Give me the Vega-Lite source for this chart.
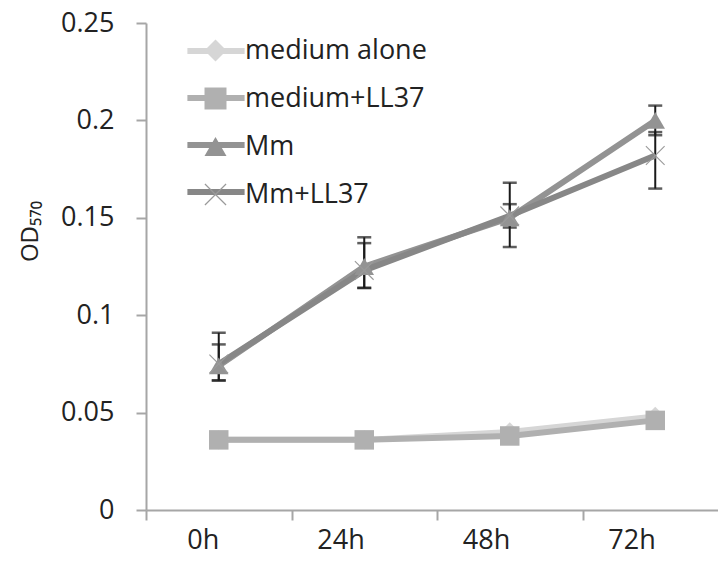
{
  "$schema": "https://vega.github.io/schema/vega-lite/v6.json",
  "width": 582,
  "height": 487,
  "autosize": "none",
  "padding": {"left": 146, "top": 23, "right": -10, "bottom": 57},
  "background": "white",
  "config": {
    "view": {"stroke": null},
    "axis": {
      "grid": false,
      "domainColor": "#a6a6a6",
      "domainWidth": 2,
      "tickColor": "#a6a6a6",
      "tickWidth": 2,
      "tickSize": 10,
      "labelFont": "Open Sans",
      "labelFontSize": 27,
      "labelColor": "#222222",
      "titleFont": "Open Sans",
      "titleFontSize": 24,
      "titleFontWeight": "normal",
      "titleColor": "#222222"
    }
  },
  "resolve": {"legend": {"stroke": "independent", "fill": "independent", "shape": "independent"}},
  "datasets": {
    "means": [
      {"series": "medium alone", "time": "0h", "od": 0.036},
      {"series": "medium alone", "time": "24h", "od": 0.036},
      {"series": "medium alone", "time": "48h", "od": 0.040},
      {"series": "medium alone", "time": "72h", "od": 0.048},
      {"series": "medium+LL37", "time": "0h", "od": 0.036},
      {"series": "medium+LL37", "time": "24h", "od": 0.036},
      {"series": "medium+LL37", "time": "48h", "od": 0.038},
      {"series": "medium+LL37", "time": "72h", "od": 0.046},
      {"series": "Mm", "time": "0h", "od": 0.074},
      {"series": "Mm", "time": "24h", "od": 0.125},
      {"series": "Mm", "time": "48h", "od": 0.150},
      {"series": "Mm", "time": "72h", "od": 0.200},
      {"series": "Mm+LL37", "time": "0h", "od": 0.075},
      {"series": "Mm+LL37", "time": "24h", "od": 0.123},
      {"series": "Mm+LL37", "time": "48h", "od": 0.151},
      {"series": "Mm+LL37", "time": "72h", "od": 0.182}
    ],
    "errors": [
      {"series": "Mm", "time": "0h", "lo": 0.0665, "hi": 0.085},
      {"series": "Mm+LL37", "time": "0h", "lo": 0.0665, "hi": 0.091},
      {"series": "Mm", "time": "24h", "lo": 0.114, "hi": 0.137},
      {"series": "Mm+LL37", "time": "24h", "lo": 0.114, "hi": 0.140},
      {"series": "Mm", "time": "48h", "lo": 0.145, "hi": 0.157},
      {"series": "Mm+LL37", "time": "48h", "lo": 0.135, "hi": 0.168},
      {"series": "Mm", "time": "72h", "lo": 0.1924, "hi": 0.2076},
      {"series": "Mm+LL37", "time": "72h", "lo": 0.165, "hi": 0.194}
    ]
  },
  "layer": [
    {
      "data": {"name": "errors"},
      "mark": {"type": "rule", "color": "#1a1a1a", "strokeWidth": 2},
      "encoding": {
        "x": {"field": "time", "type": "nominal", "sort": ["0h", "24h", "48h", "72h"], "title": null},
        "y": {"field": "lo", "type": "quantitative", "title": "OD₅₇₀"},
        "y2": {"field": "hi"}
      }
    },
    {
      "data": {"name": "errors"},
      "mark": {"type": "tick", "color": "#1a1a1a", "size": 14, "thickness": 2.5},
      "encoding": {
        "x": {"field": "time", "type": "nominal", "sort": ["0h", "24h", "48h", "72h"], "title": null},
        "y": {"field": "lo", "type": "quantitative", "title": "OD₅₇₀"}
      }
    },
    {
      "data": {"name": "errors"},
      "mark": {"type": "tick", "color": "#1a1a1a", "size": 14, "thickness": 2.5},
      "encoding": {
        "x": {"field": "time", "type": "nominal", "sort": ["0h", "24h", "48h", "72h"], "title": null},
        "y": {"field": "hi", "type": "quantitative", "title": "OD₅₇₀"}
      }
    },
    {
      "data": {"name": "means"},
      "mark": {"type": "line", "strokeWidth": 6, "strokeJoin": "round"},
      "encoding": {
        "x": {
          "field": "time", "type": "nominal", "sort": ["0h", "24h", "48h", "72h"], "title": null,
          "scale": {"paddingInner": 0, "paddingOuter": 0},
          "axis": {"labelAngle": 0, "tickBand": "extent", "labelPadding": 20}
        },
        "y": {
          "field": "od", "type": "quantitative", "title": "OD₅₇₀",
          "scale": {"domain": [0, 0.25], "nice": false},
          "axis": {
            "values": [0, 0.05, 0.1, 0.15, 0.2, 0.25],
            "format": "~g",
            "labelPadding": 22,
            "titleX": -116,
            "titleY": 208,
            "titleAngle": -90,
            "titleAlign": "center",
            "titleBaseline": "middle"
          }
        },
        "stroke": {
          "field": "series", "type": "nominal",
          "sort": ["medium alone", "medium+LL37", "Mm", "Mm+LL37"],
          "scale": {
            "domain": ["medium alone", "medium+LL37", "Mm", "Mm+LL37"],
            "range": ["#d6d6d6", "#b0b0b0", "#939393", "#878787"]
          },
          "legend": {
            "orient": "none",
            "legendX": 56,
            "legendY": 14,
            "title": null,
            "padding": 0,
            "symbolType": "M-2.6,0H2.6",
            "symbolSize": 484,
            "symbolStrokeWidth": 6,
            "symbolFillColor": "transparent",
            "rowPadding": 20,
            "labelOffset": 16,
            "labelLimit": 0,
            "labelOpacity": 0,
            "labelFont": "Open Sans",
            "labelFontSize": 27,
            "labelColor": "#222222"
          }
        }
      }
    },
    {
      "data": {"name": "means"},
      "mark": {"type": "point", "filled": true, "size": 380, "opacity": 1, "strokeWidth": 0},
      "encoding": {
        "x": {"field": "time", "type": "nominal", "sort": ["0h", "24h", "48h", "72h"], "title": null},
        "y": {"field": "od", "type": "quantitative", "title": "OD₅₇₀"},
        "fill": {
          "field": "series", "type": "nominal",
          "scale": {
            "domain": ["medium alone", "medium+LL37", "Mm", "Mm+LL37"],
            "range": ["#d6d6d6", "#b0b0b0", "#939393", "#9a9a9a"]
          },
          "legend": {
            "orient": "none",
            "legendX": 56,
            "legendY": 14,
            "title": null,
            "padding": 0,
            "symbolSize": 484,
            "symbolStrokeWidth": 0,
            "rowPadding": 20,
            "labelOffset": 16,
            "labelLimit": 0,
            "labelFont": "Open Sans",
            "labelFontSize": 27,
            "labelColor": "#222222"
          }
        },
        "shape": {
          "field": "series", "type": "nominal",
          "scale": {
            "domain": ["medium alone", "medium+LL37", "Mm", "Mm+LL37"],
            "range": ["diamond", "square", "triangle-up", "M-0.92,-1L1,0.92L0.92,1L-1,-0.92Z M1,-0.92L-0.92,1L-1,0.92L0.92,-1Z"]
          },
          "legend": {
            "orient": "none",
            "legendX": 56,
            "legendY": 14,
            "title": null,
            "padding": 0,
            "symbolSize": 484,
            "symbolStrokeWidth": 0,
            "rowPadding": 20,
            "labelOffset": 16,
            "labelLimit": 0,
            "labelFont": "Open Sans",
            "labelFontSize": 27,
            "labelColor": "#222222"
          }
        }
      }
    }
  ]
}
